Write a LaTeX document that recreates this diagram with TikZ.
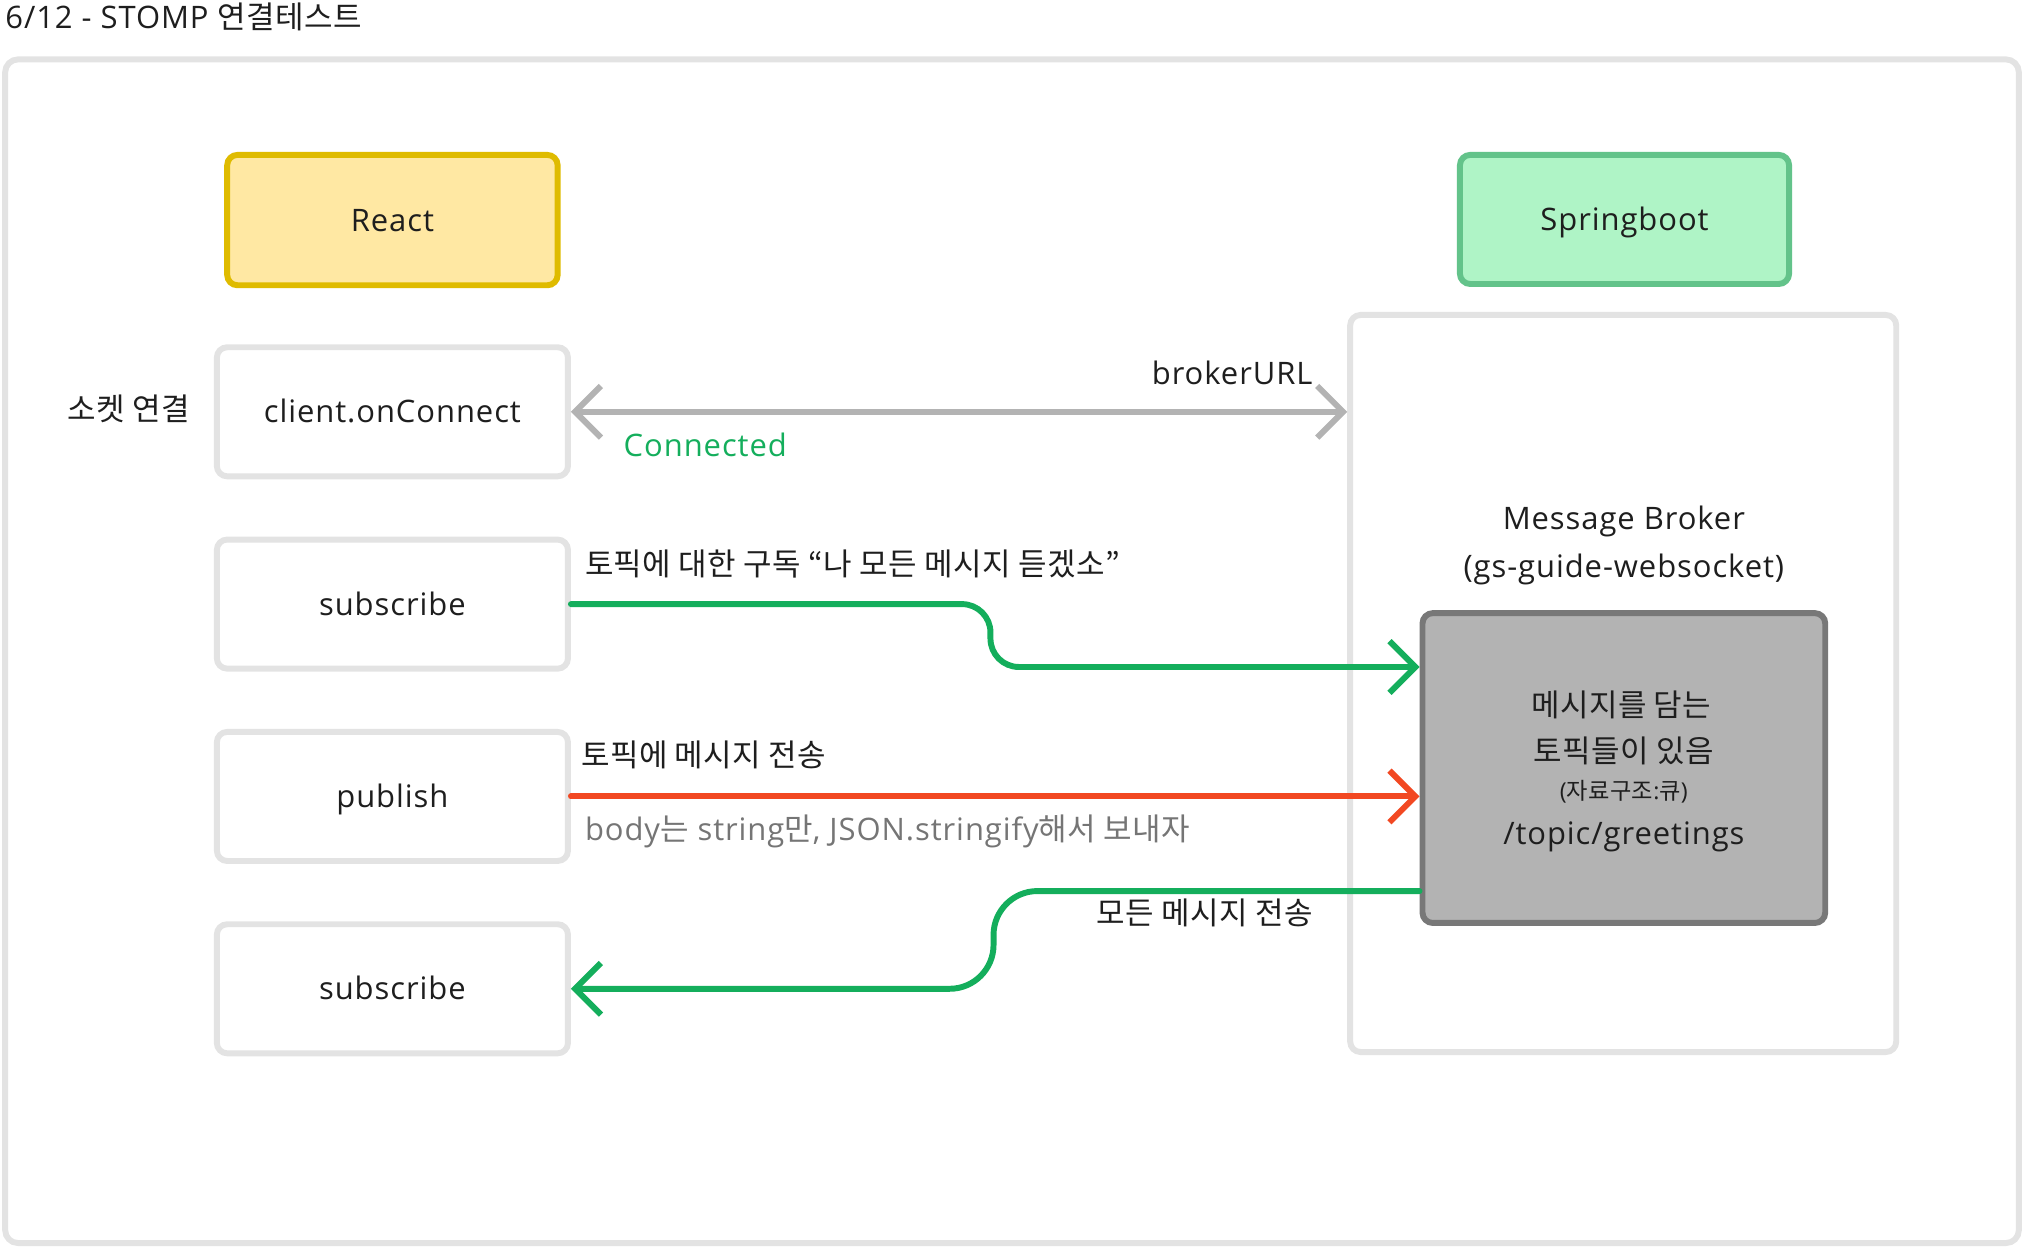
\documentclass[tikz,border=0pt]{standalone}
\usepackage{fontspec}
\setmainfont{Open Sans}[LetterSpace=3]
\newfontfamily\krfont{Noto Sans CJK KR}[LetterSpace=1.5]
\newcommand{\kr}[1]{{\krfont #1}}
\usetikzlibrary{arrows.meta}
\definecolor{ink}{HTML}{1E1E1E}
\definecolor{boxline}{HTML}{E3E3E3}
\definecolor{reactfill}{HTML}{FFE8A3}
\definecolor{reactline}{HTML}{DFBB00}
\definecolor{springfill}{HTML}{AFF4C6}
\definecolor{springline}{HTML}{63C38A}
\definecolor{queuefill}{HTML}{B3B3B3}
\definecolor{queueline}{HTML}{787878}
\definecolor{arrowgray}{HTML}{B3B3B3}
\definecolor{flowgreen}{HTML}{14AE5C}
\definecolor{flowred}{HTML}{F24822}
\definecolor{notegray}{HTML}{757575}

\begin{document}
\begin{tikzpicture}[x=1pt,y=-1pt,
  >={Straight Barb[length=20pt,width=40pt]},
  every node/.style={text=ink,font=\fontsize{24}{29}\selectfont},
  box/.style={draw=boxline,fill=white,line width=4.6pt,rounded corners=8pt,minimum width=272pt,minimum height=100pt,text height=17pt,text depth=0pt},
  lbl/.style={inner sep=0pt},
  link/.style={line width=4.6pt,line cap=round,line join=round,->}]
 \useasboundingbox (0,0) rectangle (1568,967);
 \draw [boxline,line width=4.6pt,rounded corners=10pt] (4,46) rectangle (1564,963);
 \node [lbl,anchor=base west] (title) at (4,22) {6/12 - STOMP \kr{연결테스트}};

 \node [box,draw=reactline,fill=reactfill,minimum width=256pt,minimum height=101pt] (react) at (304,170.5) {React};
 \node [box,draw=springline,fill=springfill,minimum width=255pt] (spring) at (1258.5,170) {Springboot};

 \node [box] (conn) at (304,319) {client.onConnect};
 \node [box] (sub1) at (304,468) {subscribe};
 \node [box] (pub) at (304,617) {publish};
 \node [box] (sub2) at (304,766) {subscribe};
 \node [lbl,anchor=base] (sock) at (100,326) {\kr{소켓 연결}};

 \node [box,minimum width=423pt,minimum height=571pt] (broker) at (1257.5,529.5) {};
 \node [lbl,anchor=base] (bname) at (1258,410) {Message Broker};
 \node [lbl,anchor=base] (bguide) at (1258,447) {(gs-guide-websocket)};
 \node [box,draw=queueline,fill=queuefill,minimum width=312pt,minimum height=240pt] (queue) at (1258,595) {};
 \node [lbl,anchor=base] (q1) at (1256,555) {\kr{메시지를 담는}};
 \node [lbl,anchor=base] (q2) at (1258,591) {\kr{토픽들이 있음}};
 \node [lbl,anchor=base,font=\fontsize{18}{21}\selectfont] (q3) at (1258,619) {(\kr{자료구조}:\kr{큐})};
 \node [lbl,anchor=base] (q4) at (1258,654) {/topic/greetings};

 \coordinate (subin) at ([yshift=-44pt]queue.north west);
 \coordinate (allout) at ([yshift=27pt]queue.south west);

 \draw [link,arrowgray,<->] (conn.east) -- (conn.east -| broker.west);
 \node [lbl,anchor=base east] (url) at (1017,298) {brokerURL};
 \node [lbl,anchor=base west,text=flowgreen] (ok) at (483,354) {Connected};

 \draw [link,flowgreen,rounded corners=22pt] (sub1.east) -- ++(325,0) |- (subin);
 \node [lbl,anchor=base west] (subtxt) at (453,446) {\kr{토픽에 대한 구독 “나 모든 메시지 듣겠소”}};

 \draw [link,flowred] (pub.east) -- (pub.east -| queue.west);
 \node [lbl,anchor=base west] (pubtxt) at (450,594) {\kr{토픽에 메시지 전송}};
 \node [lbl,anchor=base west,text=notegray] (note) at (453,651) {body\kr{는} string\kr{만}, JSON.stringify\kr{해서 보내자}};

 \draw [link,flowgreen,rounded corners=34pt] (allout) -- ++(-330,0) |- (sub2.east);
 \node [lbl,anchor=base east] (alltxt) at (1017,716) {\kr{모든 메시지 전송}};
\end{tikzpicture}
\end{document}
